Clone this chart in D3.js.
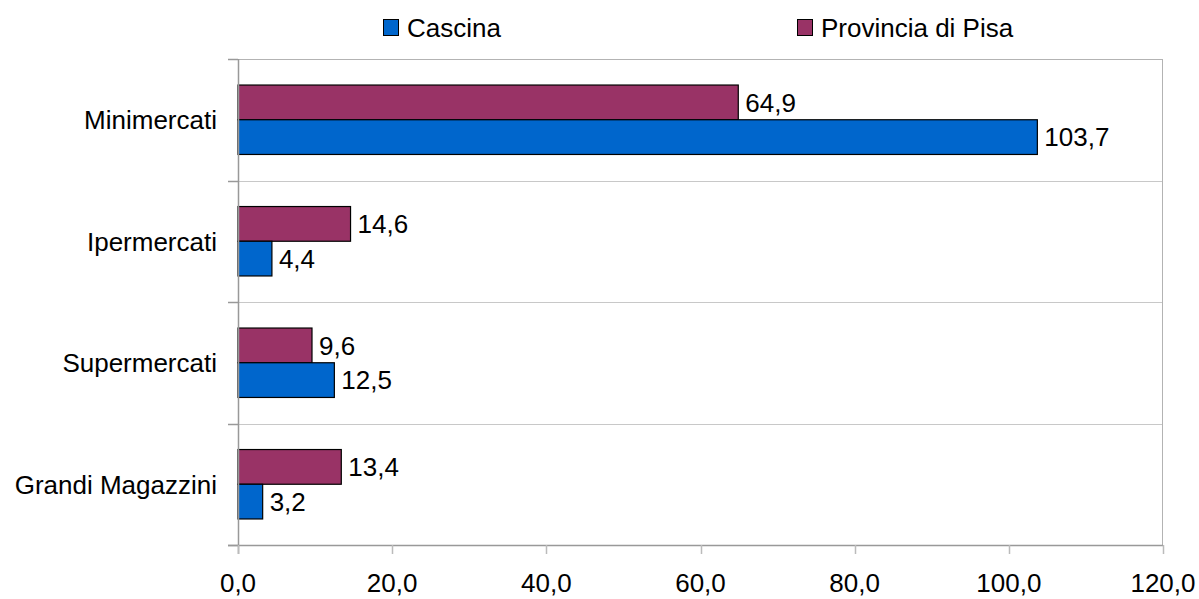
<!DOCTYPE html>
<html><head><meta charset="utf-8">
<script src="https://cdn.jsdelivr.net/npm/d3@7"></script>
<style>body{margin:0;background:#fff}svg{display:block;font-family:"Liberation Sans",Arial,sans-serif}</style>
</head><body><svg id="c" width="1199" height="599"></svg>
<script>
const categories = ["Minimercati","Ipermercati","Supermercati","Grandi Magazzini"];
const seriesNames = ["Provincia di Pisa","Cascina"];
const provinciaValues = [64.9,14.6,9.6,13.4];
const cascinaValues = [103.7,4.4,12.5,3.2];
const xTicks = [0,20,40,60,80,100,120];
const colors = {"Cascina":"#0066cc","Provincia di Pisa":"#993366"};

const svg = d3.select("#c");
const L=238,R=1163,T=59,B=545;
const FS=26;
const x = d3.scaleLinear().domain([0,120]).range([L,R]);
const y = d3.scaleBand().domain(categories).range([T,B]);
const inner = d3.scaleBand().domain(seriesNames).range([0,y.bandwidth()]).paddingOuter(0.75);
const fmt = v => d3.format(".1f")(v).replace(".",",");

// gridlines
svg.append("g").selectAll("line").data(categories.slice(1)).join("line")
  .attr("x1",L).attr("x2",R).attr("y1",d=>Math.round(y(d))+0.5).attr("y2",d=>Math.round(y(d))+0.5)
  .attr("stroke","#c8c8c8").attr("stroke-width",1);
// top & right border
svg.append("line").attr("x1",L).attr("x2",R).attr("y1",T+0.5).attr("y2",T+0.5).attr("stroke","#b3b3b3");
svg.append("line").attr("x1",R-0.5).attr("x2",R-0.5).attr("y1",T).attr("y2",B).attr("stroke","#b3b3b3");

// bars
const data = categories.map((c,i)=>({c, vals:[{s:"Provincia di Pisa",v:provinciaValues[i]},{s:"Cascina",v:cascinaValues[i]}]}));
const g = svg.append("g").selectAll("g").data(data).join("g").attr("transform",d=>`translate(0,${y(d.c)})`);
g.selectAll("rect").data(d=>d.vals).join("rect")
  .attr("x",x(0)).attr("y",d=>inner(d.s)).attr("width",d=>x(d.v)-x(0)).attr("height",inner.bandwidth())
  .attr("fill",d=>colors[d.s]).attr("stroke","#000").attr("stroke-width",1.2);
g.selectAll("text").data(d=>d.vals).join("text")
  .attr("x",d=>x(d.v)+7).attr("y",d=>inner(d.s)+inner.bandwidth()/2).attr("dy","0.36em")
  .attr("font-size",FS).attr("fill","#000").text(d=>fmt(d.v));

// y axis
const ya = svg.append("g").attr("transform",`translate(${L},0)`);
ya.append("line").attr("x1",0.5).attr("x2",0.5).attr("y1",T).attr("y2",B+9).attr("stroke","#999").attr("stroke-width",1.5);
ya.selectAll("line.t").data(categories.concat(["_end"])).join("line").attr("class","t")
  .attr("x1",-10).attr("x2",0).attr("y1",(d,i)=>i<categories.length?Math.round(y(d))+0.5:B+0.5).attr("y2",(d,i)=>i<categories.length?Math.round(y(d))+0.5:B+0.5)
  .attr("stroke","#999").attr("stroke-width",1.5);
ya.selectAll("text").data(categories).join("text")
  .attr("x",-21).attr("y",d=>y(d)+y.bandwidth()/2).attr("dy","0.36em").attr("text-anchor","end")
  .attr("font-size",FS).text(d=>d);

// x axis
const xa = svg.append("g").attr("transform",`translate(0,${B})`);
xa.append("line").attr("x1",L-10).attr("x2",R).attr("y1",0.5).attr("y2",0.5).attr("stroke","#999").attr("stroke-width",1.5);
xa.selectAll("line.t").data(xTicks).join("line").attr("class","t")
  .attr("x1",d=>Math.round(x(d))+0.5).attr("x2",d=>Math.round(x(d))+0.5).attr("y1",0).attr("y2",9)
  .attr("stroke","#bbb").attr("stroke-width",1.5);
xa.selectAll("text").data(xTicks).join("text")
  .attr("x",d=>x(d)).attr("y",47).attr("text-anchor","middle").attr("font-size",FS).text(d=>fmt(d));

// legend
const legendItems = ["Cascina","Provincia di Pisa"];
const legX = [383,797];
const lg = svg.append("g").selectAll("g").data(legendItems).join("g").attr("transform",(d,i)=>`translate(${legX[i]},0)`);
lg.append("rect").attr("x",0.5).attr("y",19.5).attr("width",15).attr("height",16).attr("fill",d=>colors[d]).attr("stroke","#000").attr("stroke-width",1);
lg.append("text").attr("x",24).attr("y",28).attr("dy","0.36em").attr("font-size",FS).text(d=>d);
</script></body></html>
